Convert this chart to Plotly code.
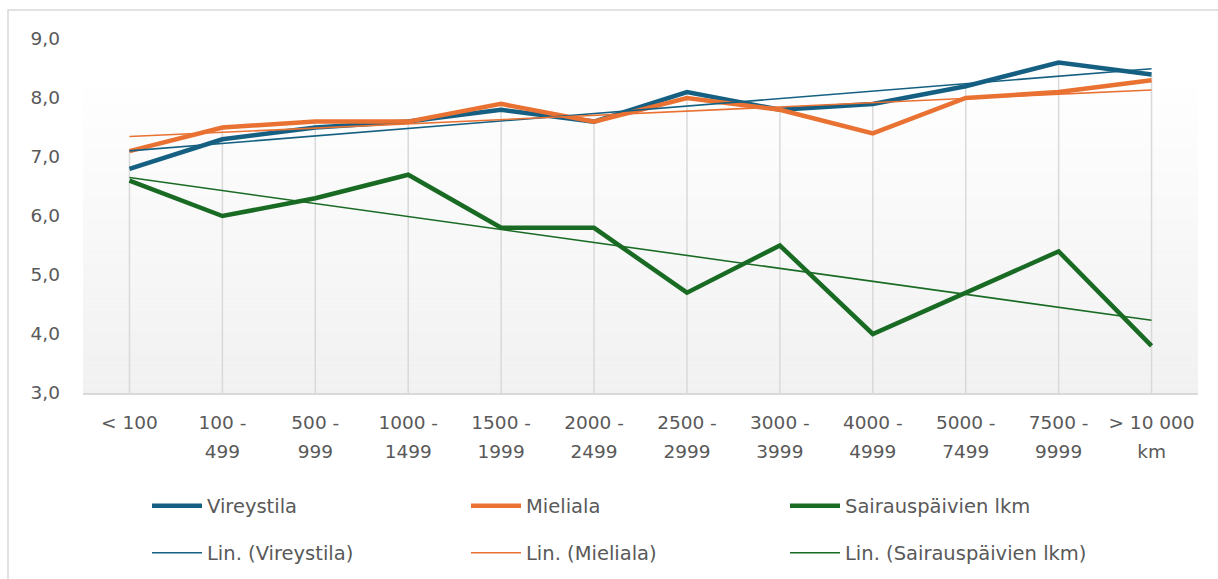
import numpy as np
import plotly.graph_objects as go

# ---- data ----
categories_line1 = ["< 100", "100 -", "500 -", "1000 -", "1500 -", "2000 -", "2500 -",
                    "3000 -", "4000 -", "5000 -", "7500 -", "> 10 000"]
categories_line2 = ["", "499", "999", "1499", "1999", "2499", "2999",
                    "3999", "4999", "7499", "9999", "km"]
vireystila = [6.8, 7.3, 7.5, 7.6, 7.8, 7.6, 8.1, 7.8, 7.9, 8.2, 8.6, 8.4]
mieliala = [7.1, 7.5, 7.6, 7.6, 7.9, 7.6, 8.0, 7.8, 7.4, 8.0, 8.1, 8.3]
sairaus = [6.6, 6.0, 6.3, 6.7, 5.8, 5.8, 4.7, 5.5, 4.0, 4.7, 5.4, 3.8]
y_ticks = [3, 4, 5, 6, 7, 8, 9]

names = ["Vireystila", "Mieliala", "Sairauspäivien lkm"]
colors = ["#156082", "#E97132", "#196B24"]
series = [vireystila, mieliala, sairaus]

# ---- layout geometry ----
W, H = 1218, 579
ML, MR, MT, MB = 83, 20, 39, 186
PW, PH = W - ML - MR, H - MT - MB

def px_x(p):
    return (p - ML) / PW

def px_y(p):
    return (H - MB - p) / PH

FONT = "DejaVu Sans"
TXT = "#595959"

idx = list(range(len(categories_line1)))

fig = go.Figure()

# drop lines (from highest value down to the axis)
dx, dy = [], []
for i in idx:
    top = max(s[i] for s in series)
    dx += [i, i, None]
    dy += [top, y_ticks[0], None]
fig.add_trace(go.Scatter(x=dx, y=dy, mode="lines", line=dict(color="#d9d9d9", width=1.5),
                         showlegend=False, hoverinfo="skip"))

for name, col, s in zip(names, colors, series):
    fig.add_trace(go.Scatter(x=idx, y=s, mode="lines", name=name,
                             line=dict(color=col, width=4.5), legend="legend"))

for name, col, s in zip(names, colors, series):
    k, b = np.polyfit(idx, s, 1)
    trend = [k * i + b for i in idx]
    fig.add_trace(go.Scatter(x=idx, y=trend, mode="lines", name=f"Lin. ({name})",
                             line=dict(color=col, width=1.6), legend="legend2",
                             xaxis="x2"))

# gradient background (plot area)
g_top = px_y(88)
n = 40
c_top, c_bot = 0xfe, 0xf1
for j in range(n):
    y0 = g_top * j / n
    y1 = g_top * (j + 1) / n
    t = (j + 0.5) / n
    c = int(round(c_bot + (c_top - c_bot) * t))
    fig.add_shape(type="rect", xref="x domain", yref="paper", x0=0, x1=1, y0=y0, y1=y1,
                  fillcolor=f"rgb({c},{c},{c})", line=dict(width=0), layer="below")

# chart border
fig.add_shape(type="rect", xref="paper", yref="paper",
              x0=px_x(8), x1=px_x(W + 20), y0=px_y(H + 20), y1=px_y(10),
              line=dict(color="#d9d9d9", width=1.5), fillcolor="rgba(0,0,0,0)", layer="below")

common_x = dict(range=[-0.5, len(idx) - 0.5], tickmode="array", tickvals=idx,
                showgrid=False, zeroline=False, ticks="",
                tickfont=dict(family=FONT, size=18.5, color=TXT))

legend_common = dict(orientation="h", x=px_x(147), xanchor="left", yanchor="middle",
                     entrywidth=254, entrywidthmode="pixels", itemwidth=50,
                     font=dict(family=FONT, size=19.5, color=TXT), bgcolor="rgba(0,0,0,0)")

fig.update_layout(
    width=W, height=H,
    margin=dict(l=ML, r=MR, t=MT, b=MB, pad=0, autoexpand=False),
    paper_bgcolor="white", plot_bgcolor="rgba(0,0,0,0)",
    separators=", ",
    xaxis=dict(**common_x, ticktext=categories_line1, showline=True,
               linecolor="#d9d9d9", linewidth=1.5, ticklabelstandoff=12),
    xaxis2=dict(**common_x, ticktext=categories_line2, overlaying="x", anchor="y",
                side="bottom", matches="x", showline=False, ticklabelstandoff=45),
    yaxis=dict(range=[y_ticks[0], y_ticks[-1]], tickmode="array", tickvals=y_ticks,
               tickformat=".1f", showgrid=False, zeroline=False, showline=False,
               ticks="", ticklabelstandoff=22,
               tickfont=dict(family=FONT, size=18.5, color=TXT)),
    legend=dict(**legend_common, y=px_y(506)),
    legend2=dict(**legend_common, y=px_y(553)),
    showlegend=True,
)

fig.write_html("out.html", config={"displayModeBar": False},
               post_script="document.body.style.margin='0';")
